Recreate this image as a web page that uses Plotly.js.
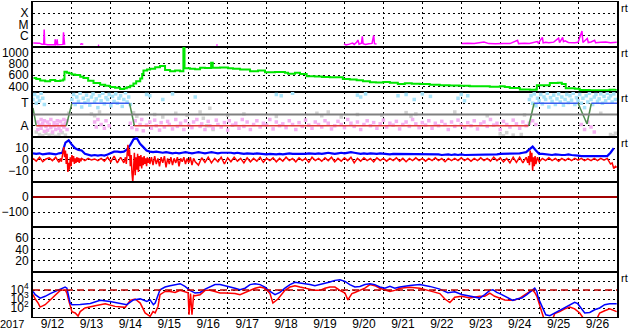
<!DOCTYPE html>
<html><head><meta charset="utf-8">
<script src="https://cdn.plot.ly/plotly-3.0.1.min.js"></script>
<style>html,body{margin:0;padding:0;background:#fff;}#chart{width:633px;height:334px;}</style>
</head><body><div id="chart"></div>
<script>
// ---------- DATA (hours since 2017-09-12 00:00 UT) ----------
const startDate = Date.UTC(2017, 8, 12);
const rangeStart = '2017-09-12';
const rangeEnd = '2017-09-27';
const yearLabel = '2017';

// Panel 1: X-ray flux (W/m^2), null = gap
const xrayHours = [0.2,2,4,5.5,6.6,6.9,7.2,9,11,13.4,13.7,14.0,14.6,14.9,15.2,17,18.5,18.8,19.1,19.5,20,29,30,31,32,40,40.8,41,113,113.8,114,191.7,193,195,197,198,199.5,200.3,201,202.5,203,203.5,205,207,209,210,210.5,211.8,212,264.3,268,272,276,278,281,285,290,294,298.7,299.3,303,306,310.8,311.5,314,314.5,316,318,321,324,324.6,326.5,327,328,330,332,334,336,338.4,339,341.7,342.3,344,346.2,346.8,350,353,356,359.8];
const xrayFlux = [2.3e-7,2.4e-7,2.2e-7,1.8e-7,1.8e-7,3.6e-6,1.8e-7,1.6e-7,1.6e-7,1.6e-7,4.8e-7,1.6e-7,1.7e-7,4.8e-7,1.6e-7,1.6e-7,1.7e-7,2.0e-6,1.7e-7,1.6e-7,null,1.7e-7,1.9e-7,1.7e-7,null,1.4e-7,1.4e-7,null,1.5e-7,1.5e-7,null,1.9e-7,1.5e-7,1.8e-7,2.2e-7,1.7e-7,2.6e-7,4.2e-7,1.8e-7,2.2e-7,8.8e-7,2.0e-7,1.7e-7,1.9e-7,2.1e-7,1.1e-6,2.0e-7,1.8e-7,null,2.0e-7,2.2e-7,2.0e-7,2.3e-7,2.8e-7,2.0e-7,1.9e-7,2.1e-7,2.0e-7,3.9e-7,2.0e-7,2.2e-7,2.1e-7,3.0e-7,2.2e-7,7.2e-7,2.3e-7,2.6e-7,2.4e-7,2.7e-7,6.2e-7,2.5e-7,7.0e-7,3.0e-7,3.5e-7,2.5e-7,2.3e-7,2.4e-7,2.6e-7,2.6e-6,2.5e-7,5.8e-7,2.5e-7,2.8e-7,4.0e-7,2.4e-7,2.6e-7,2.8e-7,2.4e-7,2.7e-7];
const xrayTickVals = [1e-4,1e-5,1e-6];
const xrayTickText = ['X','M','C'];

// Panel 2: solar wind speed (km/s)
const speedHours = [0.3,2.0,4.4,7.5,10.6,13.7,16.8,18.6,19.4,20.9,22.3,24.0,26.0,29.1,31.1,34.0,37.3,41.4,44.5,47.5,50.6,53.7,56.2,57.8,59.9,61.9,63.6,66.1,67.3,68.1,70.3,72.2,75.3,78.3,81.4,84.5,87.6,90.7,92.7,93.4,96.8,99.9,103.0,106.1,109.8,110.8,115.3,120.2,123.3,127.6,133.8,138.7,143.0,149.2,155.3,157.2,161.5,164.6,168.7,173.8,178.1,183.0,191.0,195.3,199.5,203.4,207.7,211.4,215.9,220.0,224.9,229.2,233.5,238.5,244.6,250.8,256.9,263.1,269.3,275.4,281.6,287.8,290.8,293.9,300.1,306.3,310.0,310.6,315.5,318.6,323.5,326.0,328.4,334.0,337.0,343.2,349.4,355.5,359.2];
const speedValues = [551,530,503,490,515,495,505,520,659,641,630,610,600,570,551,500,461,430,410,390,375,354,365,383,410,449,490,539,620,682,700,713,740,760,690,670,680,670,1100,720,713,705,730,725,820,730,735,720,713,700,670,680,652,655,640,623,640,620,580,575,565,562,533,520,508,490,472,470,479,465,444,455,445,440,430,420,415,410,400,400,395,400,390,372,345,341,345,418,420,461,465,440,365,358,335,330,329,340,354];
const speedTickVals = [400,600,800,1000];

// Panel 3: IMF sector (phi, degrees) scatter and polarity line
const phiTowardHours = [0,1,2,3,4,5,6,7,24,25,26,27,28,29,30,31,32,33,34,35,36,37,38,39,40,41,42,43,44,45,46,47,48,49,50,51,52,53,54,55,56,57,58,59,60,70,72,80,86,100,150,153,160,200,202,205,225,230,235,240,245,262,264,266,268,306,307,308,309,310,311,312,313,314,315,316,317,318,319,320,321,322,323,324,325,326,327,328,329,330,331,332,333,334,335,336,337,338,339,340,341,342,343,344,345,346,347,348,349,350,351,352,353,354,355,356,357,358,359];
const phiTowardDeg = [300,340,270,320,290,350,310,260,300,340,260,320,285,350,240,310,275,335,295,255,320,345,280,305,235,330,290,350,265,315,300,340,250,325,285,345,270,310,330,245,300,355,280,320,260,340,330,300,345,320,340,330,350,335,320,345,330,340,300,345,325,310,340,290,330,300,330,270,345,250,310,290,340,265,320,300,350,240,315,285,335,260,305,345,280,320,255,300,340,275,330,295,350,260,315,290,340,270,310,235,330,280,350,300,260,320,340,285,305,345,270,325,290,350,310,330,280,345,300];
const phiAwayHours = [3,3,4,5,5,6,7,7,8,9,9,10,11,11,12,13,13,14,15,15,16,17,17,18,19,19,20,21,21,38,39,40,42,44,45,47,60,61,63,64,66,67,68,70,72,73,75,76,78,79,81,83,84,86,88,89,91,93,94,96,98,99,101,103,104,106,108,109,111,113,114,116,118,120,121,123,125,127,129,130,132,134,136,138,140,142,144,146,148,150,152,154,156,158,160,162,164,166,168,170,172,174,176,178,180,182,184,186,188,190,192,194,196,198,200,202,204,206,208,210,212,214,216,218,220,222,224,226,228,230,232,234,236,238,240,242,244,246,248,250,252,254,256,258,260,262,264,266,268,270,272,274,276,278,280,282,284,286,288,290,292,294,296,298,300,302,304,306,308,310,338,340,342,344,346];
const phiAwayDeg = [120,60,95,140,70,110,45,130,85,120,55,100,140,75,40,115,90,60,130,100,70,125,50,95,140,80,110,60,130,120,80,140,100,70,130,90,110,75,130,60,100,140,50,95,120,70,135,90,55,115,80,125,100,65,140,85,110,60,130,95,75,120,140,85,105,60,125,90,70,135,100,80,115,55,130,95,110,70,140,85,120,60,100,130,80,110,95,140,65,120,90,105,75,130,100,60,115,85,135,95,70,120,100,80,130,110,65,90,125,100,75,140,110,85,120,60,100,130,90,115,70,105,135,80,110,95,125,65,100,120,85,140,105,75,115,95,130,70,110,90,125,100,60,120,85,135,100,75,115,90,130,65,105,120,85,140,95,110,60,125,100,80,135,105,70,120,90,110,130,100,100,60,120,80,40];
const phiOtherHours = [2,4,6,8,10,12,14,16,18,20,22,36,38,41,62,64,75,80,88,95,103,105,107,109,111,120,130,150,175,178,182,190,200,215,230,233,236,260,280,288,290,292,296,301,303,350,356,358,359];
const phiOtherDeg = [40,20,10,30,15,25,5,20,35,15,190,185,170,200,195,165,180,160,190,175,200,150,90,230,60,175,185,165,190,170,200,160,180,175,195,165,185,200,170,25,10,35,15,20,176,190,20,10,30];
const sectorHours = [0,2,20.5,24,59.5,62.5,305.6,308.9,336,341.5,344.2,360];
const sectorDeg = [232,90,90,270,270,90,90,270,270,104,270,270];
const sectorBoundary = 180;
const sectorTickVals = [270,90];
const sectorTickText = ['T','A'];

// Panel 4: IMF Bt (2-hour samples from 9/12 00 UT) and Bz (nT)
const btStepHours = 2;
const btValues = [5.5,5,5.5,4.5,5,5.5,5,4.5,5.5,6,15,17,13,10,8.5,8,5,4,3.5,4,3.5,4,3.5,4.5,6,7,7,6.5,7,9,13,18,19,14,11,8,7,6.5,7,6.5,6,6.5,6,5.5,6,5.5,6,6.5,6,5.5,6,6.5,6,5.5,6,6.5,6,5.5,6,6,6.5,6,5.5,6,5.5,5,5.5,5,5,5.5,5,5,4.5,5,4.5,4.5,5,4.5,5,5.5,5,5,4.5,5,5,5.5,5,5,5.5,5,5.5,6,5.5,5,5.5,6,5.5,6,6.5,6,5.5,5,5.5,5,5.5,5,5,5.5,5,5,4.5,5,5,4.5,5,5,4.5,5,4.5,5,5,4.5,4.5,5,4.5,4.5,4,4.5,4.5,4,4.5,4,4.5,4,4,4.5,4,4,4.5,4,4,4.5,4,4.5,5,5,5.5,5,5.5,5,5.5,6,6.5,9,11.5,8,5,5,4.5,4.5,4,4.5,4,4,4,4.5,4,4,3.5,3,3,2.5,3,2.5,3,3,3,3,6,10];
const bzHoursA = [0,2,4,6,8,10,12,14,16,17,17.5,18,18.5,19,19.5,20,20.5,21,21.5,22,22.5,23,23.5,24,24.5,25,25.5,26,26.5,27,27.5,28,28.5,29,29.5,30,32,34,36,38,40,42,44,46,48,50,52,54,56,57,57.5,58,58.5,59,59.5,60,60.5,61,61.5,62,62.5,63,63.5,64,64.5,65,65.5,66,66.5,67,67.5,68,68.5,69,69.5,70,70.5,71,71.5,72,73,74,75,76,77,78,79,80,81,82,83,84,85,86,87,88,89,90,91,92,93,94,95,96,97,98,99,100];
const bzValuesA = [1,-1.5,2,-2,0.5,1.5,-1,2,-2.5,1,-2,3,6,11,2,8,-4,5,-11,-3,-9,2,-6,4,-2,3,-4,1,-3,2,-2,1.5,-3,1,-1.5,1,-1,1,-0.5,0.5,-1,1,-1.5,2,-2,3,-3,2,-3,2,-4,5,13,3,9,-6,4,-12,-20,-8,6,-14,2,-9,5,-11,3,-6,4,-8,2,-5,3,-4,1,-6,2,-3,1,-4,2,-5,3,-4,1,-6,2,-3,3,-7,1,-4,2,-5,1,-3,2,-6,1,-2,2,-4,1,-3,2,-5,1,-2];
const bzQuietStartHour = 102;
const bzQuietStepHours = 2;
const bzQuietValues = [-5,1.5,-2.5,2,-3,1,-2,2,-4,1.5,-2,2,-1.5,1,-3,1.5,-2,1,-1.5,2,-2.5,1,-1,1.5,-2,1,-1.5,2,-1,1,-2,1.5,-1,1,-2.5,2,-1,1,-1.5,1.5,-1,2,-2,1,-1.5,1.5,-1,2,-3,1,-1.5,1.5,-1,1,-2,1.5,-1,1,-1.5,1,-1,1.5,-1.5,1,-2,1,-1,1.5,-1,1,-1.5,1,-1,1.5,-1,1,-2,1,-1,1,-1,1.5,-1,1,-1.5,1,-1,1.5,-1,1,-1.5,2,-1,1.5,-2,1,-3,2,-2.5,2,-3];
const bzHoursC = [304,305,305.5,306,306.5,307,307.5,308,308.5,309,309.5,310,311,312,314,316,318,320,322,324,326,328,330,332,334,336,338,340,342,344,346,348,350,352,354,355,356,357,358,359,359.8];
const bzValuesC = [2,-3,3,-5,8,-2,6,-10,2,-6,3,-4,2,-2,1,-1,1.5,-1,1,-1.5,1,-1,1,-1,1,-0.5,1,-1,0.5,-1,1,-1,1,-0.5,1,-2,-4,-3,-8,-6,-7];
const imfTickVals = [10,0,-10];

// Panel 5: reference level only
const dstReference = 0;
const dstTickVals = [0,-100];

// Panel 6: empty panel
const panel6TickVals = [60,40,20];

// Panel 7: >2 MeV electron flux, log10(pfu)
const elecHoursA = [0,1.4,4.4,7.5,10.6,13.7,16.8,18.8,19.8,20.9,21.9,22.9,24.0,26.0,29.1,35.3,41.4,47.5,53.7,57.8,61.9,64,66.1,70.2,72.2,74.2,75.3,78.3,81.4,84.5,87.6,90.7,93.7,96.8,99.9,103.0,106.1,109.1,112.2,115.3,118.4,121.5,124.5,127.6,130.7,133.8,136.9,140.0,143.0,146.1,149.2,152.2,155.3,158.4,161.5,164.6,167.6,170.7,173.8,176.9,180.0,183.0,186.1,189.2,192.3,195.3,198.4,201.5,204.6,207.7,210.7,213.8,216.9,220.0,223.0,226.1,232.3,238.5,244.6,250.8,255.7,260.0,264.3,269.3,272.3,275.4,278.5,281.6,283.5,285.9,287.8,290.8,293.9,295.8,298.2,301.3,304.4,306.3,308.1,309.3,310.6,311.2,312.4,314.2,316.1,318.6,321.6,324.7,327.8,330.9,333.9,335.8,338.3,340.1,343.2,346.2,349.3,352.4,355.5,359.8];
const elecLogA = [3.84,3.48,3.1,3.3,3.6,3.84,4.1,4.2,4.33,4.2,3.5,2.55,2.37,2.37,2.4,2.5,2.85,2.73,2.48,2.37,2.9,3.0,3.03,2.73,2.9,2.37,2.55,4.03,4.33,4.48,4.6,4.7,4.4,3.96,3.66,3.73,4.1,4.33,4.6,4.6,4.5,4.33,4.2,4.03,4.2,4.6,4.7,4.6,4.33,3.84,3.48,3.73,4.2,4.6,4.85,4.78,4.7,4.6,4.48,4.6,4.7,4.89,5.07,5.14,4.96,4.6,4.33,4.4,4.6,4.7,4.6,4.33,4.2,4.4,4.2,4.33,4.5,4.6,4.4,4.1,3.7,3.8,3.5,3.3,3.2,3.1,3.48,3.96,4.03,3.73,3.6,3.3,3.0,2.85,3.0,3.1,3.48,3.73,4.03,4.2,3.84,3.3,2.73,2.0,1.25,1.14,1.45,1.7,2.0,2.37,2.63,2.48,1.9,1.45,1.5,1.8,2.0,2.37,2.48,2.48];
const elecHoursB = [0,1.4,3.2,4.4,7.5,10.6,13.7,16.8,19.8,20.9,21.9,22.9,24.0,26.0,27.8,29.1,32.1,38.3,44.5,50.6,56.8,59.9,62.9,66.1,69.1,72.2,74.0,75.3,77.1,78.3,81.4,84.5,87.6,90.7,93.7,95.6,96.2,97.1,98.0,99.0,99.9,103.0,106.1,109.1,112.2,115.3,118.4,121.5,124.5,127.6,130.7,133.8,136.9,140.0,143.0,146.1,147.9,151.0,153.4,155.3,158.4,161.5,164.6,167.6,170.7,173.8,176.9,180.0,183.0,186.1,189.2,192.3,194.1,196.6,198.4,201.5,204.6,207.7,210.7,213.8,216.9,220.0,223.0,226.1,232.3,238.5,244.6,250.8,253.9,257.0,260.0,264.3,269.3,275.4,278.5,281.6,284.6,287.8,290.8,293.9,297.0,300.1,303.2,306.3,308.1,309.3,310.6,311.8,313.0,314.2,315.5,319.8,321.6,324.7,327.8,330.9,333.9,337.0,338.8,340.7,346.8,349.3,352.4,355.5,359.8];
const elecLogB = [3.5,3.0,2.55,2.1,2.37,2.9,3.5,3.96,4.03,3.66,2.9,2.2,1.6,1.45,1.1,1.6,2.0,2.26,2.48,2.18,2.07,2.85,3.0,2.55,1.45,1.07,1.6,1.45,2.2,3.48,3.84,3.84,3.73,3.96,3.84,3.7,1.25,3.6,1.25,3.4,3.37,3.48,3.96,3.96,3.84,3.66,3.66,3.66,3.6,3.48,3.73,3.96,4.2,4.33,4.2,3.6,2.55,3.0,3.48,3.96,4.33,4.48,4.33,4.2,4.03,3.96,3.96,4.2,4.33,4.33,3.96,3.66,2.9,3.6,3.73,3.96,4.2,4.6,4.48,4.2,4.03,3.84,3.96,4.2,4.3,4.2,3.9,3.6,3.0,2.6,3.2,3.3,3.1,3.3,3.3,3.66,3.3,3.1,2.9,2.85,2.9,3.1,3.48,3.84,3.96,3.73,3.3,2.55,1.6,1.1,0.5,0.5,1.37,1.6,1.9,2.1,1.9,1.45,1.1,0.5,0.5,1.45,1.7,1.9,1.6];
const electronThreshold = 1e4;
const elecTickVals = [1e4,1e3,1e2];
const elecTickText = ['10<sup>4</sup>','10<sup>3</sup>','10<sup>2</sup>'];
const elecExtraGrid = [1e5];

// ---------- BUILD ----------
const HOUR = 3600000;
const toT = h => startDate + h * HOUR;
const FONT = 'Liberation Sans, Arial, Helvetica, sans-serif';
const traces = [];

traces.push({x: xrayHours.map(toT), y: xrayFlux, yaxis: 'y', mode: 'lines', connectgaps: false,
  line: {color: '#ff00ff', width: 1.5}});
traces.push({x: speedHours.map(toT), y: speedValues, yaxis: 'y2', mode: 'lines',
  line: {color: '#00e600', width: 2, shape: 'hv'}});

traces.push({x: phiOtherHours.map(toT), y: phiOtherDeg, yaxis: 'y3', mode: 'markers',
  marker: {color: '#d2d2d2', size: 3.5, symbol: 'square', line: {width: 0}}});
traces.push({x: phiAwayHours.map(toT), y: phiAwayDeg, yaxis: 'y3', mode: 'markers',
  marker: {color: '#f4b0f0', size: 3.5, symbol: 'square', line: {width: 0}}});
traces.push({x: phiTowardHours.map(toT), y: phiTowardDeg, yaxis: 'y3', mode: 'markers',
  marker: {color: '#a6e2f8', size: 3.5, symbol: 'square', line: {width: 0}}});
for (let i = 0; i < sectorHours.length - 1; i++) {
  const a = sectorDeg[i], b = sectorDeg[i + 1];
  let c = '#4c8c4c';
  if (a >= 250 && b >= 250) c = '#3a5cf0';
  else if (a <= 95 && b <= 95) c = '#e03a3a';
  traces.push({x: [toT(sectorHours[i]), toT(sectorHours[i + 1])], y: [a, b], yaxis: 'y3',
    mode: 'lines', line: {color: c, width: 1.5}});
}

const btT = btValues.map((v, i) => toT(i * btStepHours));
const bzHoursQuiet = bzQuietValues.map((v, i) => bzQuietStartHour + i * bzQuietStepHours);
const bzT = bzHoursA.concat(bzHoursQuiet, bzHoursC).map(toT);
const bzY = bzValuesA.concat(bzQuietValues, bzValuesC);
traces.push({x: btT, y: btValues, yaxis: 'y4', mode: 'lines', line: {color: '#0000ff', width: 2.2}});
traces.push({x: bzT, y: bzY, yaxis: 'y4', mode: 'lines', line: {color: '#ff0000', width: 1.5}});

traces.push({x: [], y: [], yaxis: 'y5', mode: 'lines'});
traces.push({x: [], y: [], yaxis: 'y6', mode: 'lines'});

traces.push({x: elecHoursB.map(toT), y: elecLogB.map(v => Math.pow(10, v)), yaxis: 'y7', mode: 'lines',
  line: {color: '#ff0000', width: 1.5}});
traces.push({x: elecHoursA.map(toT), y: elecLogA.map(v => Math.pow(10, v)), yaxis: 'y7', mode: 'lines',
  line: {color: '#0000ff', width: 1.5}});

traces.forEach(t => { t.xaxis = 'x'; t.hoverinfo = 'skip'; t.showlegend = false; });

const DOT = '2px,3px';
function yax(i, extra) {
  const base = {
    domain: [(7 - i) / 7, (8 - i) / 7], anchor: 'x',
    showline: true, mirror: true, linecolor: 'black', linewidth: 2,
    showgrid: true, gridcolor: 'black', gridwidth: 1, griddash: DOT,
    zeroline: false, ticks: '', tickfont: {family: FONT, size: 12, color: 'black'},
    fixedrange: true, tickmode: 'array'
  };
  return Object.assign(base, extra);
}

const layout = {
  width: 633, height: 334,
  margin: {l: 33, r: 16, t: 2, b: 17, pad: 0},
  paper_bgcolor: 'white', plot_bgcolor: 'white',
  showlegend: false,
  font: {family: FONT, size: 12, color: 'black'},
  xaxis: {
    type: 'date', range: [rangeStart, rangeEnd], anchor: 'y7',
    tickmode: 'linear', tick0: rangeStart, dtick: 86400000,
    tickformat: '%-m/%-d', ticklabelmode: 'period', ticklabelstandoff: -4,
    showgrid: true, gridcolor: 'black', gridwidth: 1, griddash: DOT,
    showline: true, mirror: 'all', linecolor: 'black', linewidth: 1,
    zeroline: false, ticks: '', tickfont: {family: FONT, size: 12, color: 'black'},
    fixedrange: true
  },
  yaxis: yax(1, {type: 'log', range: [-7, -3], tickvals: xrayTickVals, ticktext: xrayTickText}),
  yaxis2: yax(2, {range: [300, 1100], tickvals: speedTickVals}),
  yaxis3: yax(3, {range: [0, 360], tickvals: sectorTickVals, ticktext: sectorTickText}),
  yaxis4: yax(4, {range: [-20, 20], tickvals: imfTickVals}),
  yaxis5: yax(5, {range: [-200, 100], tickvals: dstTickVals}),
  yaxis6: yax(6, {range: [0, 80], tickvals: panel6TickVals}),
  yaxis7: yax(7, {type: 'log', range: [1, 6], tickvals: elecTickVals, ticktext: elecTickText,
    minor: {tickmode: 'array', tickvals: elecExtraGrid, showgrid: true, gridcolor: 'black',
            gridwidth: 1, griddash: DOT, ticks: ''}}),
  shapes: [
    {type: 'line', xref: 'paper', x0: 0, x1: 1, yref: 'y3', y0: sectorBoundary, y1: sectorBoundary,
     line: {color: '#808080', width: 2}},
    {type: 'line', xref: 'paper', x0: 0, x1: 1, yref: 'y5', y0: dstReference, y1: dstReference,
     line: {color: '#a00000', width: 2}},
    {type: 'line', xref: 'paper', x0: 0, x1: 1, yref: 'y7', y0: electronThreshold, y1: electronThreshold,
     line: {color: '#c00000', width: 1.5, dash: '7px,4px'}}
  ],
  annotations: [
    {text: yearLabel, xref: 'paper', x: 0, xanchor: 'right', xshift: -7,
     yref: 'paper', y: 0, yanchor: 'top', yshift: 1, showarrow: false,
     font: {family: FONT, size: 11, color: 'black'}}
  ].concat(['y', 'y2', 'y3', 'y4', 'y7'].map(ax => ({
     text: 'rt', xref: 'paper', x: 1, xanchor: 'left', xshift: 2,
     yref: ax + ' domain', y: 1, yanchor: 'top', yshift: 2, showarrow: false,
     font: {family: FONT, size: 11, color: '#000000'}})))
};

Plotly.newPlot('chart', traces, layout, {staticPlot: true, displayModeBar: false});
</script>
</body></html>
